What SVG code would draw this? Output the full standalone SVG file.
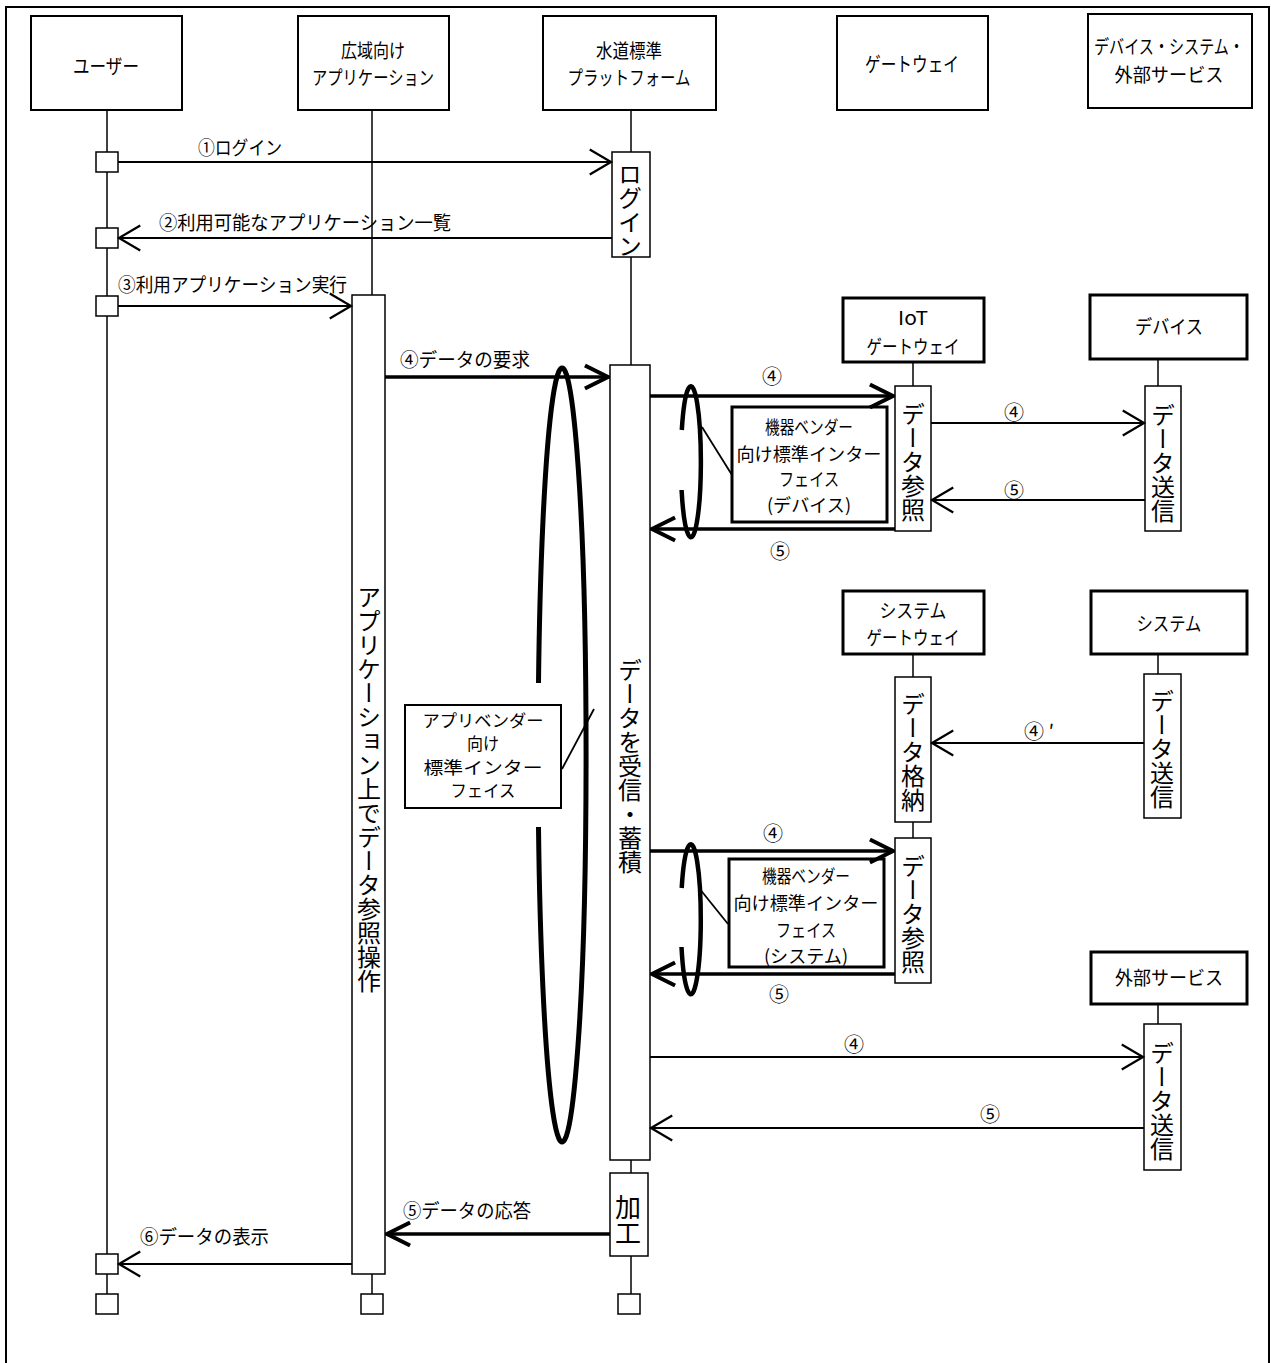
<svg xmlns="http://www.w3.org/2000/svg" width="1271" height="1363" viewBox="0 0 1271 1363">
<defs>
<style>
.frame{fill:none;stroke:#000;stroke-width:2}
.hb{fill:#fff;stroke:#000;stroke-width:2}
.hb3{fill:#fff;stroke:#000;stroke-width:3}
.act{fill:#fff;stroke:#000;stroke-width:1.5}
.life{stroke:#000;stroke-width:1.5;fill:none}
.msg{stroke:#000;stroke-width:1.8;fill:none;marker-end:url(#ah)}
.msgb{stroke:#000;stroke-width:3.5;fill:none;marker-end:url(#ahb)}
.ell{fill:none;stroke:#000;stroke-width:4.5}
.call{stroke:#000;stroke-width:1.8;fill:none}
.t{font-family:"Noto Sans CJK JP","Liberation Sans",sans-serif;font-size:19px;fill:#000}
.h{font-size:19px}
.h1{font-size:20px}
.n{font-size:20px}
.s{font-size:18px}
.a{font-size:17px}
.c{text-anchor:middle}
.v{writing-mode:vertical-rl;font-size:24px;text-anchor:middle}
</style>
<marker id="ah" markerUnits="userSpaceOnUse" markerWidth="30" markerHeight="30" viewBox="-20 -12 22 24" refX="0" refY="0" orient="auto">
<path d="M-17,-10 L0,0 L-17,10" fill="none" stroke="#000" stroke-width="1.8"/>
</marker>
<marker id="ahb" markerUnits="userSpaceOnUse" markerWidth="30" markerHeight="30" viewBox="-24 -13 26 26" refX="0" refY="0" orient="auto">
<path d="M-20,-10 L0,0 L-20,10" fill="none" stroke="#000" stroke-width="3.5"/>
</marker>
</defs>
<rect width="1271" height="1363" fill="#fff"/>
<rect class="frame" x="6" y="7" width="1263" height="1375"/>

<g id="lifelines">
<line class="life" x1="107" y1="110" x2="107" y2="1294"/>
<line class="life" x1="372" y1="110" x2="372" y2="1294"/>
<line class="life" x1="631" y1="110" x2="631" y2="1294"/>
<line class="life" x1="913" y1="362" x2="913" y2="386"/>
<line class="life" x1="1158" y1="359" x2="1158" y2="386"/>
<line class="life" x1="913" y1="654" x2="913" y2="838"/>
<line class="life" x1="1158" y1="654" x2="1158" y2="674"/>
<line class="life" x1="1158" y1="1004" x2="1158" y2="1024"/>
</g>

<g id="user">
<rect class="hb" x="31" y="16" width="151" height="94"/>
<text class="t h1 c" x="106" y="74" textLength="66" lengthAdjust="spacingAndGlyphs">ユーザー</text>
<rect class="act" x="96" y="152" width="22" height="20"/>
<rect class="act" x="96" y="228" width="22" height="20"/>
<rect class="act" x="96" y="296" width="22" height="20"/>
<rect class="act" x="96" y="1254" width="22" height="20"/>
<rect class="act" x="96" y="1294" width="22" height="20"/>
</g>

<g id="app">
<rect class="hb" x="298" y="16" width="151" height="94"/>
<text class="t h c" x="373" y="58" textLength="64" lengthAdjust="spacingAndGlyphs">広域向け</text>
<text class="t h c" x="373" y="85" textLength="122" lengthAdjust="spacingAndGlyphs">アプリケーション</text>
<rect class="act" x="352" y="295" width="33" height="979"/>
<text class="t v" x="369" y="789">アプリケーション上でデータ参照操作</text>
<rect class="act" x="361" y="1294" width="22" height="20"/>
</g>

<g id="platform">
<rect class="hb" x="543" y="16" width="173" height="94"/>
<text class="t h c" x="629" y="58" textLength="66" lengthAdjust="spacingAndGlyphs">水道標準</text>
<text class="t h c" x="629" y="85" textLength="123" lengthAdjust="spacingAndGlyphs">プラットフォーム</text>
<rect class="act" x="612" y="152" width="38" height="105"/>
<text class="t v" x="630" y="210">ログイン</text>
<rect class="act" x="610" y="365" width="40" height="795"/>
<text class="t v" x="630" y="766">データを受信・蓄積</text>
<rect class="act" x="610" y="1173" width="38" height="83"/>
<text class="t v" x="628" y="1220" style="font-size:26px">加工</text>
<rect class="act" x="618" y="1294" width="22" height="20"/>
</g>

<g id="gateway">
<rect class="hb" x="837" y="16" width="151" height="94"/>
<text class="t h1 c" x="912" y="72" textLength="94" lengthAdjust="spacingAndGlyphs">ゲートウェイ</text>
</g>

<g id="devices-systems-services">
<rect class="hb" x="1088" y="14" width="164" height="94"/>
<text class="t h c" x="1169" y="54" textLength="150" lengthAdjust="spacingAndGlyphs">デバイス・システム・</text>
<text class="t h c" x="1169" y="82" textLength="109" lengthAdjust="spacingAndGlyphs">外部サービス</text>
</g>

<g id="iot-gateway">
<rect class="hb3" x="843" y="298" width="141" height="64"/>
<text class="t c" x="913" y="325" textLength="30" lengthAdjust="spacingAndGlyphs">IoT</text>
<text class="t c" x="913" y="354" textLength="93" lengthAdjust="spacingAndGlyphs">ゲートウェイ</text>
<rect class="act" x="895" y="386" width="36" height="145"/>
<text class="t v" x="913" y="462">データ参照</text>
</g>

<g id="device">
<rect class="hb3" x="1090" y="295" width="157" height="64"/>
<text class="t c" x="1169" y="334" textLength="68" lengthAdjust="spacingAndGlyphs">デバイス</text>
<rect class="act" x="1145" y="386" width="36" height="145"/>
<text class="t v" x="1163" y="463">データ送信</text>
</g>

<g id="system-gateway">
<rect class="hb3" x="843" y="591" width="141" height="63"/>
<text class="t c" x="913" y="618" textLength="67" lengthAdjust="spacingAndGlyphs">システム</text>
<text class="t c" x="913" y="645" textLength="93" lengthAdjust="spacingAndGlyphs">ゲートウェイ</text>
<rect class="act" x="895" y="677" width="36" height="145"/>
<text class="t v" x="913" y="752">データ格納</text>
<rect class="act" x="895" y="838" width="36" height="145"/>
<text class="t v" x="913" y="914">データ参照</text>
</g>

<g id="system">
<rect class="hb3" x="1091" y="591" width="156" height="63"/>
<text class="t c" x="1169" y="631" textLength="65" lengthAdjust="spacingAndGlyphs">システム</text>
<rect class="act" x="1144" y="674" width="37" height="144"/>
<text class="t v" x="1162" y="749">データ送信</text>
</g>

<g id="external-service">
<rect class="hb3" x="1091" y="952" width="156" height="52"/>
<text class="t c" x="1169" y="985" textLength="108" lengthAdjust="spacingAndGlyphs">外部サービス</text>
<rect class="act" x="1144" y="1024" width="37" height="146"/>
<text class="t v" x="1162" y="1101">データ送信</text>
</g>

<g id="device-interface">
<path class="ell" d="M681.8,430 A10,75.5 0 1 1 681.6,490"/>
<line class="call" x1="702" y1="427" x2="732" y2="475"/>
<rect class="hb3" x="732" y="407" width="155" height="115"/>
<text class="t s c" x="809" y="434" textLength="88" lengthAdjust="spacingAndGlyphs">機器ベンダー</text>
<text class="t s c" x="809" y="461" textLength="145" lengthAdjust="spacingAndGlyphs">向け標準インター</text>
<text class="t s c" x="809" y="486" textLength="60" lengthAdjust="spacingAndGlyphs">フェイス</text>
<text class="t s c" x="809" y="512" textLength="84" lengthAdjust="spacingAndGlyphs">(デバイス)</text>
</g>

<g id="system-interface">
<path class="ell" d="M681.7,888 A10,75 0 1 1 681.5,947"/>
<line class="call" x1="699" y1="888" x2="728" y2="924"/>
<rect class="hb3" x="729" y="859" width="155" height="108"/>
<text class="t s c" x="806" y="883" textLength="88" lengthAdjust="spacingAndGlyphs">機器ベンダー</text>
<text class="t s c" x="806" y="910" textLength="145" lengthAdjust="spacingAndGlyphs">向け標準インター</text>
<text class="t s c" x="806" y="937" textLength="60" lengthAdjust="spacingAndGlyphs">フェイス</text>
<text class="t s c" x="806" y="963" textLength="84" lengthAdjust="spacingAndGlyphs">(システム)</text>
</g>

<g id="app-vendor-interface">
<path class="ell" style="stroke-width:5" d="M538.5,683 A24,387 0 1 1 538.5,827"/>
<line class="call" x1="562" y1="769" x2="594" y2="709"/>
<rect class="hb" x="405" y="705" width="156" height="103"/>
<text class="t a c" x="483" y="727" textLength="121" lengthAdjust="spacingAndGlyphs">アプリベンダー</text>
<text class="t a c" x="483" y="750" textLength="32" lengthAdjust="spacingAndGlyphs">向け</text>
<text class="t a c" x="483" y="774" textLength="119" lengthAdjust="spacingAndGlyphs">標準インター</text>
<text class="t a c" x="483" y="797" textLength="65" lengthAdjust="spacingAndGlyphs">フェイス</text>
</g>

<g id="connectors">
<line class="msg" x1="118" y1="162" x2="611" y2="162"/>
<line class="msg" x1="612" y1="238" x2="119" y2="238"/>
<line class="msg" x1="118" y1="306" x2="351" y2="306"/>
<line class="msgb" x1="385" y1="377" x2="608" y2="377"/>
<line class="msgb" x1="650" y1="396" x2="893" y2="396"/>
<line class="msg" x1="931" y1="423" x2="1144" y2="423"/>
<line class="msg" x1="1145" y1="500" x2="932" y2="500"/>
<line class="msgb" x1="895" y1="529" x2="652" y2="529"/>
<line class="msg" x1="1144" y1="743" x2="932" y2="743"/>
<line class="msgb" x1="650" y1="851" x2="893" y2="851"/>
<line class="msgb" x1="895" y1="974" x2="652" y2="974"/>
<line class="msg" x1="650" y1="1057" x2="1143" y2="1057"/>
<line class="msg" x1="1144" y1="1128" x2="651" y2="1128"/>
<line class="msgb" x1="610" y1="1234" x2="387" y2="1234"/>
<line class="msg" x1="352" y1="1264" x2="119" y2="1264"/>
</g>

<g id="connector-labels">
<text class="t" x="198" y="155" textLength="84" lengthAdjust="spacingAndGlyphs">①ログイン</text>
<text class="t" x="159" y="230" textLength="292" lengthAdjust="spacingAndGlyphs">②利用可能なアプリケーション一覧</text>
<text class="t" x="118" y="292" textLength="229" lengthAdjust="spacingAndGlyphs">③利用アプリケーション実行</text>
<text class="t" x="400" y="367" textLength="130" lengthAdjust="spacingAndGlyphs">④データの要求</text>
<text class="t n c" x="772" y="384">④</text>
<text class="t n c" x="1014" y="420">④</text>
<text class="t n c" x="1014" y="498">⑤</text>
<text class="t n c" x="780" y="559">⑤</text>
<text class="t n" x="1024" y="739">④ ′</text>
<text class="t n c" x="773" y="841">④</text>
<text class="t n c" x="779" y="1002">⑤</text>
<text class="t n c" x="854" y="1052">④</text>
<text class="t n c" x="990" y="1122">⑤</text>
<text class="t" x="403" y="1218" textLength="128" lengthAdjust="spacingAndGlyphs">⑤データの応答</text>
<text class="t" x="140" y="1244" textLength="129" lengthAdjust="spacingAndGlyphs">⑥データの表示</text>
</g>
</svg>
